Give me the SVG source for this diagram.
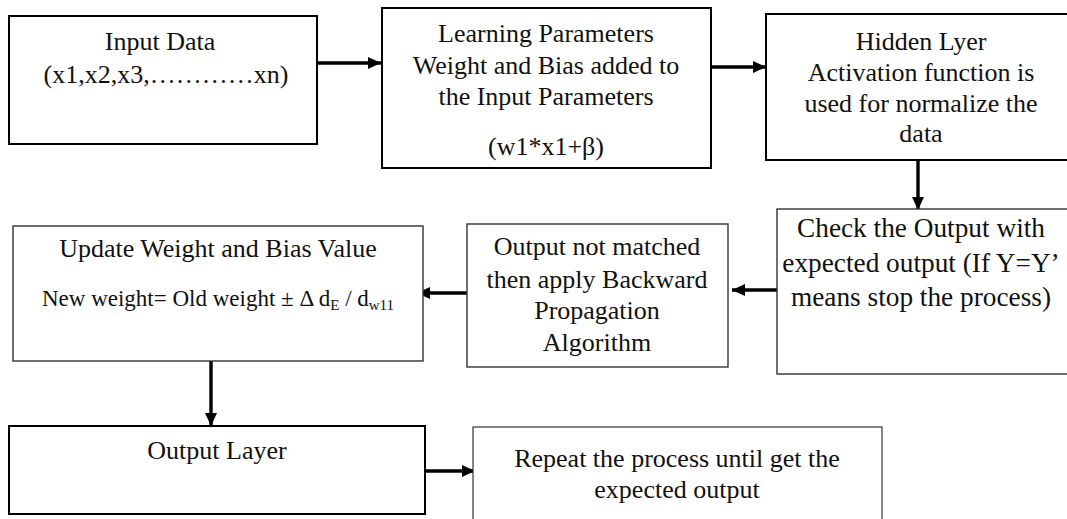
<svg xmlns="http://www.w3.org/2000/svg" width="1067" height="519" viewBox="0 0 1067 519">
<style>
.box{fill:#fff;stroke:#000;stroke-width:2}
.thin{fill:#fff;stroke:#333;stroke-width:1.4}
.hair{fill:#fff;stroke:#222;stroke-width:1.1}
text{font-family:"Liberation Serif","Times New Roman",serif;font-size:26px;fill:#111;text-anchor:middle}
.big{font-size:27.3px}
.eq{font-size:23px}
.con{stroke:#000;stroke-width:3.4;fill:none;marker-end:url(#ah)}
</style>
<defs>
<marker id="ah" markerUnits="userSpaceOnUse" markerWidth="13" markerHeight="12" refX="13" refY="6" orient="auto">
<path d="M0,0 L13,6 L0,12 z" fill="#000"/>
</marker>
</defs>
<rect width="1067" height="519" fill="#fff"/>
<g id="connectors">
<line class="con" x1="317" y1="63" x2="381" y2="63"/>
<line class="con" x1="711" y1="67" x2="766" y2="67"/>
<line class="con" x1="918" y1="159" x2="918" y2="210"/>
<line class="con" x1="777" y1="290" x2="732" y2="290"/>
<line class="con" x1="467" y1="293" x2="417" y2="293"/>
<line class="con" x1="211" y1="361" x2="211" y2="426"/>
<line class="con" x1="425" y1="471" x2="475" y2="471"/>
</g>
<g id="input-data">
<rect class="box" x="9" y="16" width="308" height="128"/>
<text x="160" y="50">Input Data</text>
<text x="166" y="83">(x1,x2,x3,…………xn)</text>
</g>
<g id="learning-parameters">
<rect class="box" x="382" y="8" width="329" height="160"/>
<text x="546" y="42">Learning Parameters</text>
<text x="546" y="74">Weight and Bias added to</text>
<text x="546" y="105">the Input Parameters</text>
<text x="546" y="155">(w1*x1+β)</text>
</g>
<g id="hidden-layer">
<rect class="box" x="766" y="14" width="320" height="146"/>
<text x="921" y="50">Hidden Lyer</text>
<text x="921" y="81">Activation function is</text>
<text x="921" y="112">used for normalize the</text>
<text x="921" y="142">data</text>
</g>
<g id="check-output">
<rect class="thin" x="777" y="209" width="310" height="165"/>
<text class="big" x="921" y="237">Check the Output with</text>
<text class="big" x="921" y="272">expected output (If Y=Y’</text>
<text class="big" x="921" y="306">means stop the process)</text>
</g>
<g id="backward-propagation">
<rect class="thin" x="467" y="224" width="261" height="143"/>
<text x="597" y="255">Output not matched</text>
<text x="597" y="288">then apply Backward</text>
<text x="597" y="319">Propagation</text>
<text x="597" y="351">Algorithm</text>
</g>
<g id="update-weight">
<rect class="thin" x="13" y="226" width="410" height="135"/>
<text x="218" y="257">Update Weight and Bias Value</text>
<text class="eq" x="218" y="306">New weight= Old weight ± Δ d<tspan font-size="15" dy="4">E</tspan><tspan dy="-4"> / d</tspan><tspan font-size="15" dy="4">w11</tspan></text>
</g>
<g id="output-layer">
<rect class="box" x="9" y="426" width="416" height="88"/>
<text x="217" y="459">Output Layer</text>
</g>
<g id="repeat-process">
<rect class="hair" x="473" y="427" width="409" height="100"/>
<text x="677" y="467">Repeat the process until get the</text>
<text x="677" y="498">expected output</text>
</g>
</svg>
